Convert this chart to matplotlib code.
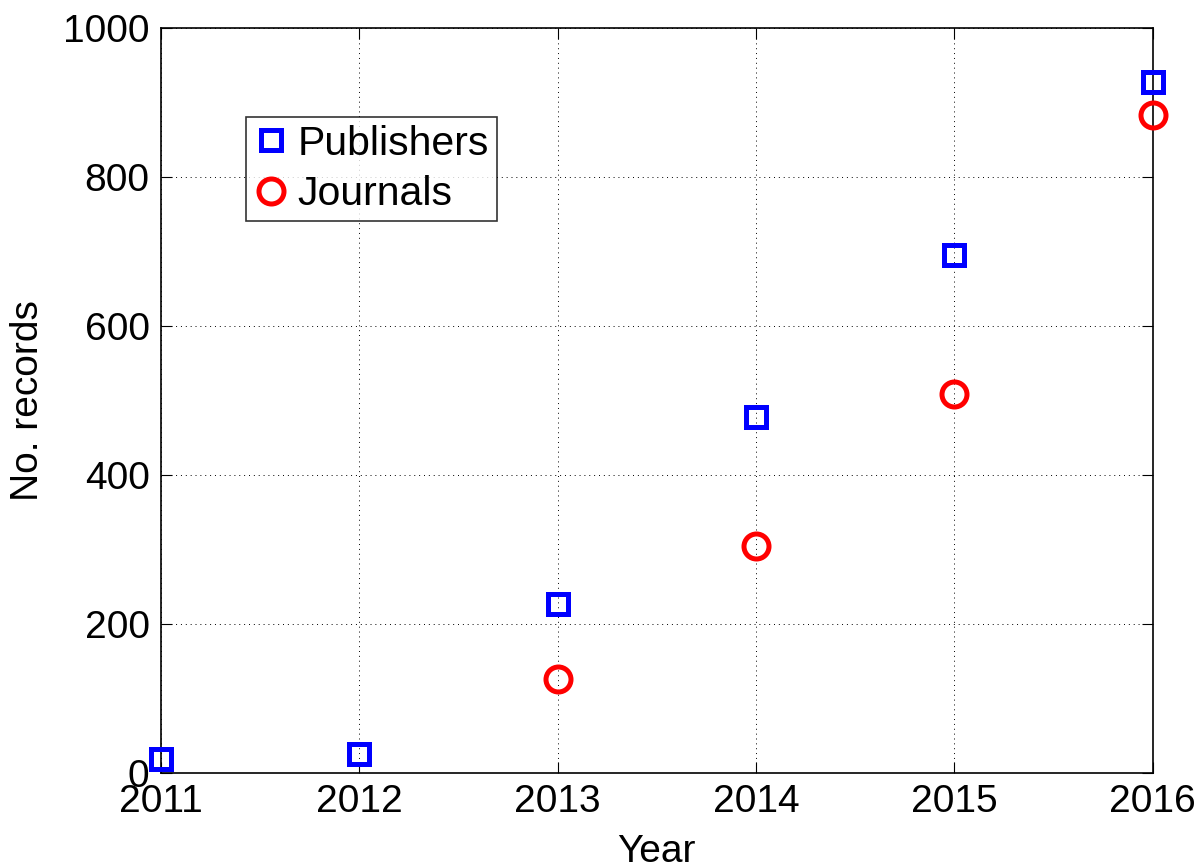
import matplotlib.pyplot as plt

# Data
years_pub = [2011, 2012, 2013, 2014, 2015, 2016]
publishers = [18, 25, 226, 477, 695, 927]
years_jour = [2013, 2014, 2015, 2016]
journals = [126, 305, 508, 883]

plt.rcParams['font.family'] = ['Liberation Sans', 'DejaVu Sans']

fig = plt.figure(figsize=(12.02, 8.67), dpi=100)
ax = fig.add_axes([160.7 / 1202, 1 - 772.7 / 867, 992 / 1202, 744.7 / 867])

ax.plot(years_pub, publishers, linestyle='none', marker='s', markersize=14.5,
        markerfacecolor='none', markeredgecolor='#0000ff', markeredgewidth=3.6,
        label='Publishers', clip_on=False, zorder=3)
ax.plot(years_jour, journals, linestyle='none', marker='o', markersize=18,
        markerfacecolor='none', markeredgecolor='#ff0000', markeredgewidth=3.6,
        label='Journals', clip_on=False, zorder=3)

ax.set_xlim(2011, 2016)
ax.set_ylim(0, 1000)
ax.set_xticks(years_pub)
ax.set_yticks([0, 200, 400, 600, 800, 1000])
ax.grid(True, color='black', linestyle=(0, (1, 4)), linewidth=0.7)
ax.tick_params(direction='in', length=8, labelsize=28, top=True, right=True, pad=8)
for s in ax.spines.values():
    s.set_linewidth(1.2)

ax.set_xlabel('Year', fontsize=28, labelpad=10)
ax.set_ylabel('No. records', fontsize=28, labelpad=12)

leg = ax.legend(loc='upper left', bbox_to_anchor=(0.086, 0.881), fontsize=29.5,
                frameon=True, fancybox=False, edgecolor='black',
                handlelength=0.8, handletextpad=0.25, borderpad=0.2,
                labelspacing=0.3, borderaxespad=0)
leg.get_frame().set_linewidth(1.2)

fig.savefig('out.png', dpi=100)
